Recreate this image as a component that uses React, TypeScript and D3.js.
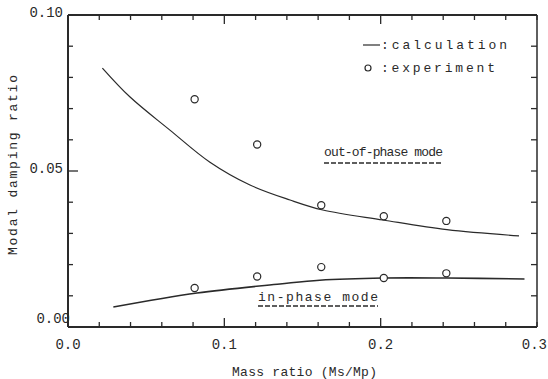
import React from "react";
import * as d3 from "d3";

// calculated curves
const outCalcX = [0.022, 0.0397, 0.0652, 0.0908, 0.1164, 0.142, 0.163, 0.2015, 0.2424, 0.2885];
const outCalcY = [0.083, 0.0737, 0.0631, 0.0528, 0.0455, 0.0407, 0.0375, 0.0343, 0.0312, 0.0292];
const inCalcX = [0.029, 0.0825, 0.1356, 0.161, 0.2015, 0.2424, 0.292];
const inCalcY = [0.0064, 0.0109, 0.0138, 0.015, 0.0157, 0.0157, 0.0154];

// experiment points
const expX = [0.081, 0.121, 0.162, 0.202, 0.242];
const outExpY = [0.073, 0.0585, 0.039, 0.0355, 0.034];
const inExpY = [0.0125, 0.0162, 0.0192, 0.0157, 0.0172];

const xTickLabels = ["0.0", "0.1", "0.2", "0.3"];
const yTickLabels = ["0.00", "0.05", "0.10"];

const W = 548;
const H = 379;
const ink = "#2a2a2a";
const mono = "Liberation Mono, DejaVu Sans Mono, monospace";

export default function App() {
  const x = d3.scaleLinear().domain([0, 0.3]).range([68, 537]);
  const y = d3.scaleLinear().domain([0, 0.1]).range([327, 15]);

  const line = d3
    .line<[number, number]>()
    .x((d) => x(d[0]))
    .y((d) => y(d[1]))
    .curve(d3.curveCatmullRom.alpha(0.5));

  const outPts = outCalcX.map((v, i) => [v, outCalcY[i]] as [number, number]);
  const inPts = inCalcX.map((v, i) => [v, inCalcY[i]] as [number, number]);

  const xMinor = d3.range(0, 0.3001, 0.02);
  const yMinor = d3.range(0, 0.1001, 0.01);
  const txt = { fontFamily: mono, fill: ink } as React.CSSProperties;

  return (
    <svg
      width={W}
      height={H}
      style={{ position: "absolute", left: 0, top: 0, background: "#fff" }}
    >
      {/* frame */}
      <line x1={x(0)} x2={x(0.3)} y1={y(0)} y2={y(0)} stroke={ink} strokeWidth={2} />
      <line x1={x(0)} x2={x(0.3)} y1={y(0.1)} y2={y(0.1)} stroke={ink} strokeWidth={2} />
      <line x1={x(0)} x2={x(0)} y1={y(0)} y2={y(0.1)} stroke={ink} strokeWidth={2} />
      <line x1={x(0.3)} x2={x(0.3)} y1={y(0)} y2={y(0.1)} stroke={ink} strokeWidth={1.5} />

      {/* x ticks */}
      {xMinor.map((t, i) => {
        const major = Math.abs(t - 0.1) < 1e-6 || Math.abs(t - 0.2) < 1e-6;
        const len = major ? 9 : 5;
        return (
          <g key={"xt" + i}>
            <line x1={x(t)} x2={x(t)} y1={y(0)} y2={y(0) - len} stroke={ink} strokeWidth={1.3} />
            <line x1={x(t)} x2={x(t)} y1={y(0.1)} y2={y(0.1) + len} stroke={ink} strokeWidth={1.3} />
          </g>
        );
      })}
      {/* y ticks */}
      {yMinor.map((t, i) => {
        const major = Math.abs(t - 0.05) < 1e-6;
        return (
          <g key={"yt" + i}>
            <line x1={x(0)} x2={x(0) + (major ? 10 : 5)} y1={y(t)} y2={y(t)} stroke={ink} strokeWidth={1.3} />
            <line x1={x(0.3)} x2={x(0.3) - 6} y1={y(t)} y2={y(t)} stroke={ink} strokeWidth={1.3} />
          </g>
        );
      })}

      {/* tick labels */}
      {xTickLabels.map((l) => (
        <text
          key={l}
          x={l === "0.3" ? 547 : x(+l)}
          y={349}
          textAnchor={l === "0.3" ? "end" : "middle"}
          fontSize={14}
          style={txt}
        >
          {l}
        </text>
      ))}
      {yTickLabels.map((l) => (
        <text
          key={l}
          x={l === "0.00" ? 70 : 63}
          y={l === "0.00" ? y(+l) - 4 : y(+l) + 2}
          textAnchor="end"
          fontSize={14}
          style={txt}
        >
          {l}
        </text>
      ))}

      {/* axis titles */}
      <text x={232} y={376} fontSize={13} textLength={145} lengthAdjust="spacing" style={txt}>
        Mass ratio (Ms/Mp)
      </text>
      <text
        transform="translate(17,255) rotate(-90)"
        fontSize={13}
        textLength={180}
        lengthAdjust="spacing"
        style={txt}
      >
        Modal damping ratio
      </text>

      {/* curves */}
      <path d={line(outPts) || ""} fill="none" stroke={ink} strokeWidth={1.2} />
      <path d={line(inPts) || ""} fill="none" stroke={ink} strokeWidth={1.6} />

      {/* experiment */}
      {expX.map((v, i) => (
        <g key={"e" + i}>
          <circle cx={x(v)} cy={y(outExpY[i])} r={3.6} fill="#fff" stroke={ink} strokeWidth={1.2} />
          <circle cx={x(v)} cy={y(inExpY[i])} r={3.6} fill="#fff" stroke={ink} strokeWidth={1.2} />
        </g>
      ))}

      {/* legend */}
      <line x1={363} x2={380} y1={45} y2={45} stroke={ink} strokeWidth={1.2} />
      <text x={381} y={49} fontSize={13} textLength={126} lengthAdjust="spacing" style={txt}>
        :calculation
      </text>
      <circle cx={368} cy={68} r={3} fill="#fff" stroke={ink} strokeWidth={1.2} />
      <text x={381} y={72} fontSize={13} textLength={114} lengthAdjust="spacing" style={txt}>
        :experiment
      </text>

      {/* mode labels */}
      <text x={324} y={156} fontSize={13} textLength={119} lengthAdjust="spacing" style={txt}>
        out-of-phase mode
      </text>
      <line x1={324} x2={443} y1={163} y2={163} stroke={ink} strokeWidth={1.3} strokeDasharray="5,2" />
      <text x={258} y={301} fontSize={13} textLength={120} lengthAdjust="spacing" style={txt}>
        in-phase mode
      </text>
      <line x1={258} x2={378} y1={306} y2={306} stroke={ink} strokeWidth={1.3} strokeDasharray="5,2" />
    </svg>
  );
}
